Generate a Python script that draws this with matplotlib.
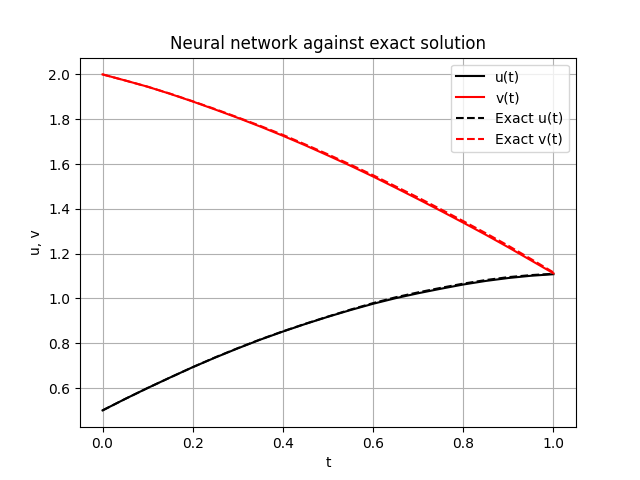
import matplotlib
matplotlib.use("Agg")
import matplotlib.pyplot as plt

t = [0.00, 0.05, 0.10, 0.15, 0.20, 0.25, 0.30, 0.35, 0.40, 0.45, 0.50,
     0.55, 0.60, 0.65, 0.70, 0.75, 0.80, 0.85, 0.90, 0.95, 1.00]
u_nn = [0.500, 0.551, 0.600, 0.647, 0.693, 0.736, 0.777, 0.816, 0.852, 0.886, 0.918,
        0.948, 0.976, 1.001, 1.023, 1.043, 1.062, 1.078, 1.091, 1.101, 1.108]
v_nn = [2.000, 1.973, 1.945, 1.913, 1.879, 1.843, 1.806, 1.767, 1.726, 1.683, 1.638,
        1.592, 1.544, 1.494, 1.443, 1.391, 1.338, 1.284, 1.228, 1.170, 1.112]
u_exact = [0.500, 0.551, 0.600, 0.647, 0.693, 0.737, 0.778, 0.817, 0.853, 0.887, 0.919,
           0.950, 0.979, 1.005, 1.027, 1.047, 1.066, 1.082, 1.095, 1.104, 1.110]
v_exact = [2.000, 1.973, 1.945, 1.914, 1.880, 1.845, 1.808, 1.770, 1.730, 1.687, 1.643,
           1.597, 1.550, 1.500, 1.450, 1.398, 1.345, 1.291, 1.235, 1.176, 1.116]

fig, ax = plt.subplots(figsize=(6.4, 4.8), dpi=100)
ax.plot(t, u_nn, color='black', label='u(t)')
ax.plot(t, v_nn, color='red', label='v(t)')
ax.plot(t, u_exact, 'k--', label='Exact u(t)')
ax.plot(t, v_exact, 'r--', label='Exact v(t)')
ax.set_xlabel('t')
ax.set_ylabel('u, v')
ax.set_title('Neural network against exact solution')
ax.grid(True)
ax.legend(loc='upper right')
fig.savefig('out.png')
